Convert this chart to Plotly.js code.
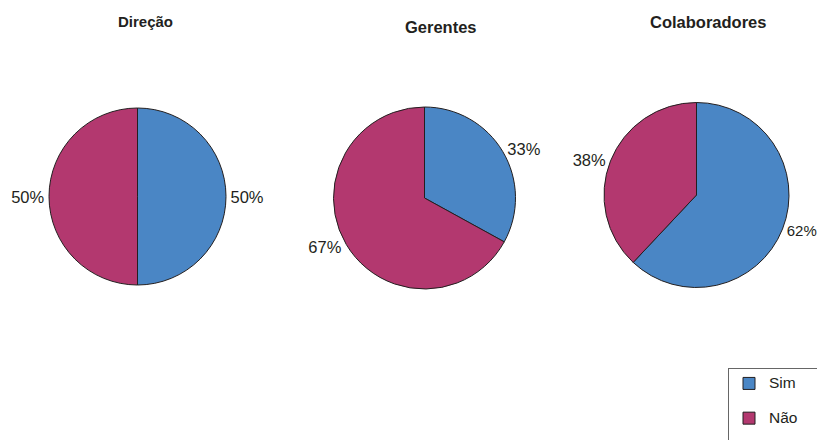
<!DOCTYPE html>
<html>
<head>
<meta charset="utf-8">
<script src="https://cdn.plot.ly/plotly-3.0.1.min.js"></script>
<style>html,body{margin:0;padding:0;background:#fff;}#chart{width:817px;height:440px;}</style>
</head>
<body>
<div id="chart"></div>
<script>
const labels = ["Sim", "Não"];
const groups = ["Direção", "Gerentes", "Colaboradores"];
const direcaoValues = [50, 50];
const gerentesValues = [33, 67];
const colaboradoresValues = [62, 38];
const colors = ["#4A86C5", "#B3386F"];

const W = 817, H = 440;
const FONT = "Liberation Sans, Arial, sans-serif";
function dom(cx, cy, r) {
  return {x: [(cx - r) / W, (cx + r) / W], y: [(H - cy - r) / H, (H - cy + r) / H]};
}
const domains = [dom(137.5, 196.5, 88.5), dom(424.5, 198, 91), dom(696.5, 195, 92.5)];
const seriesValues = [direcaoValues, gerentesValues, colaboradoresValues];
// per-slice label sizes: the right-edge label of the last pie is a touch smaller so it fits
const labelSizes = [[16.5, 16.5], [16.5, 16.5], [15, 16.5]];
// legend entries: larger text, an extra blank line for the wider row spacing,
// and trailing spaces so the box runs off the right edge as in the reference
const legendLabels = labels.map(l => "<span style='font-size:15.5px'>" + l + "\u00a0\u00a0\u00a0\u00a0</span><br> ");

const data = seriesValues.map((vals, i) => ({
  type: "pie",
  name: groups[i],
  labels: legendLabels,
  values: vals,
  sort: false,
  direction: "clockwise",
  rotation: 0,
  domain: domains[i],
  marker: {colors: colors, line: {color: "#231f20", width: 1}},
  textposition: "outside",
  texttemplate: "%{value}%",
  textfont: {family: FONT, size: labelSizes[i], color: "#231f20"},
  hoverinfo: "value",
  showlegend: i === 0
}));

const titlePos = [[145, 21], [441, 27], [708, 22]];
const titleSize = [15, 16.5, 16.5];
const annotations = groups.map((g, i) => ({
  text: "<b>" + g + "</b>",
  x: titlePos[i][0] / W, y: 1 - titlePos[i][1] / H,
  xref: "paper", yref: "paper", xanchor: "center", yanchor: "middle",
  showarrow: false,
  font: {family: FONT, size: titleSize[i], color: "#231f20"}
}));

const layout = {
  width: W, height: H,
  margin: {l: 0, r: 0, t: 0, b: 0, autoexpand: false},
  paper_bgcolor: "#fff",
  showlegend: true,
  legend: {
    x: 728 / W, y: 1 - 368 / H, xanchor: "left", yanchor: "top",
    bordercolor: "#666", borderwidth: 1, bgcolor: "#fff",
    font: {family: FONT, size: 12.2, color: "#231f20"},
    valign: "top",
    itemwidth: 30
  },
  annotations: annotations
};
Plotly.newPlot("chart", data, layout, {displayModeBar: false, staticPlot: true});
</script>
</body>
</html>
